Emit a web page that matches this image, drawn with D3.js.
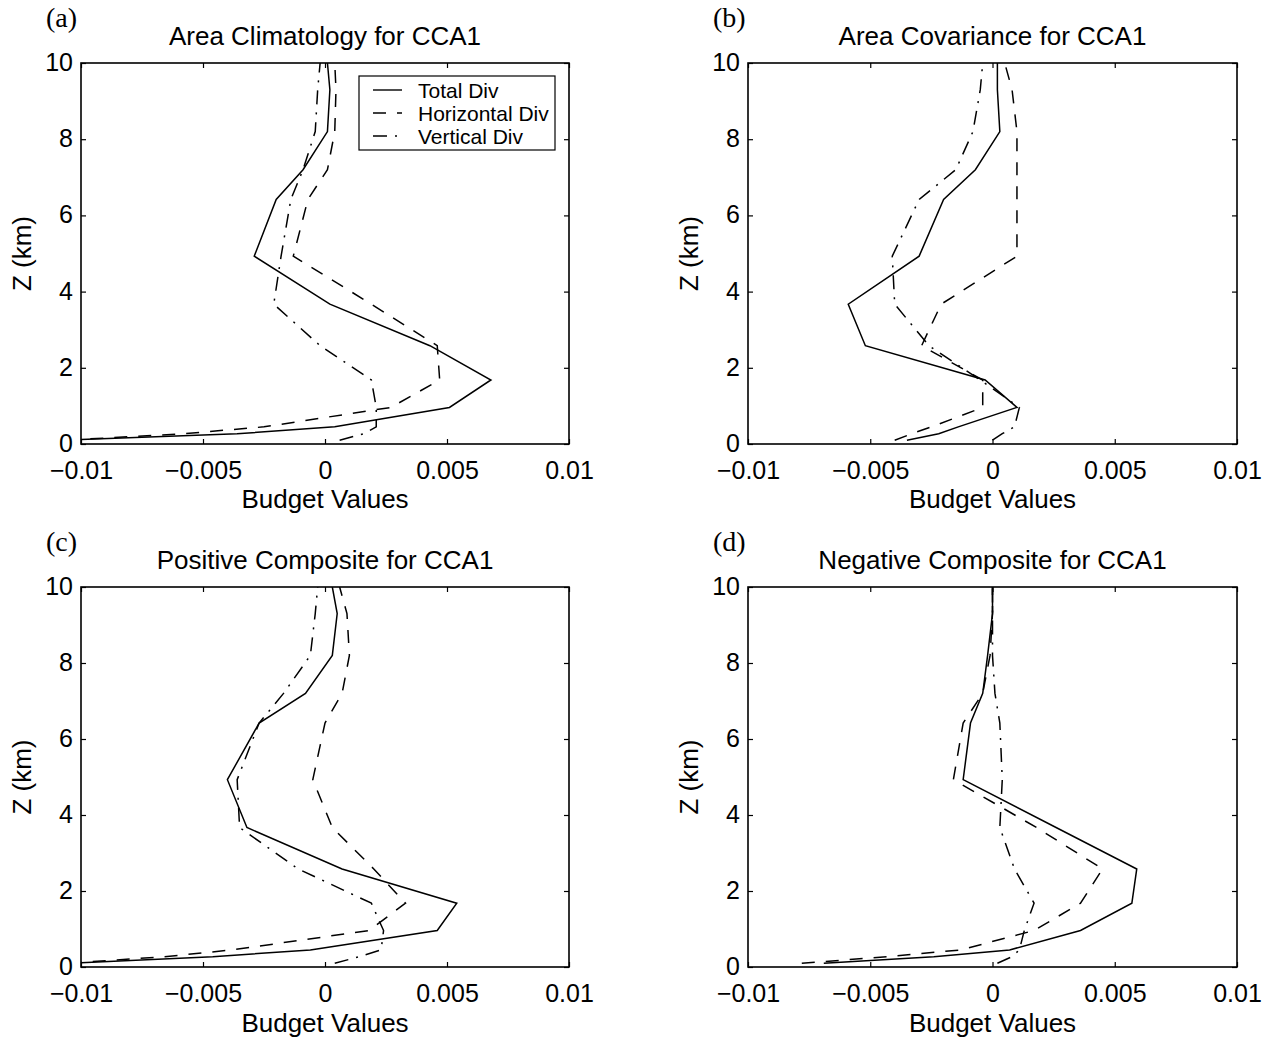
<!DOCTYPE html>
<html><head><meta charset="utf-8">
<script src="https://cdn.jsdelivr.net/npm/d3@7"></script>
<style>body{margin:0;background:#fff}</style>
</head><body><svg id="chart" width="1269" height="1039"></svg>
<script>
// ---------------- data ----------------
const zKm = [0.1, 0.27, 0.45, 0.96, 1.68, 2.58, 3.67, 4.93, 6.42, 7.2, 8.2, 9.3, 10.0];

const xTicks = [-0.01, -0.005, 0, 0.005, 0.01];
const xTickLabels = ["\u22120.01", "\u22120.005", "0", "0.005", "0.01"];
const yTicks = [0, 2, 4, 6, 8, 10];
const yTickLabels = ["0", "2", "4", "6", "8", "10"];

const seriesNames = ["Total Div", "Horizontal Div", "Vertical Div"];
const panelLetters = ["(a)", "(b)", "(c)", "(d)"];
const panelTitles = ["Area Climatology for CCA1", "Area Covariance for CCA1",
                     "Positive Composite for CCA1", "Negative Composite for CCA1"];

// (a) Area Climatology
const climTotal = [-0.0109, -0.0036, 0.0004, 0.0051, 0.0068, 0.0043, 0.0002, -0.0029, -0.0020, -0.0009, 0.0001, 0.0002, 0.0001];
const climHoriz = [-0.0106, -0.0058, -0.0025, 0.0027, 0.0047, 0.0046, 0.0019, -0.0013, -0.0007, 0.0001, 0.0004, 0.00045, 0.0004];
const climVert  = [0.0006, 0.0016, 0.0021, 0.0021, 0.0019, -0.0002, -0.0021, -0.0018, -0.0014, -0.0009, -0.0004, -0.0003, -0.0002];
// (b) Area Covariance
const covTotal = [-0.0035, -0.0022, -0.0014, 0.0010, -0.0003, -0.0052, -0.0059, -0.0030, -0.0020, -0.0007, 0.0003, 0.0002, 0.0002];
const covHoriz = [-0.0040, -0.0033, -0.0025, -0.0004, -0.0004, -0.0029, -0.0021, 0.0010, 0.0010, 0.0010, 0.0010, 0.0008, 0.0005];
const covVert  = [0.0000, 0.0004, 0.0009, 0.0011, -0.0005, -0.0026, -0.0040, -0.0041, -0.0030, -0.0015, -0.0008, -0.0005, -0.0004];
// (c) Positive Composite
const posTotal = [-0.0105, -0.0046, -0.0006, 0.0046, 0.0054, 0.0007, -0.0032, -0.0040, -0.0027, -0.0008, 0.0003, 0.0005, 0.0003];
const posHoriz = [-0.0105, -0.0066, -0.0038, 0.0018, 0.0033, 0.0020, 0.0003, -0.0005, 0.0000, 0.0007, 0.0010, 0.0009, 0.0006];
const posVert  = [0.0004, 0.0014, 0.0023, 0.0024, 0.0019, -0.0011, -0.0035, -0.0036, -0.0027, -0.0017, -0.0006, -0.0004, -0.0003];
// (d) Negative Composite
const negTotal = [-0.0069, -0.0024, 0.0007, 0.0036, 0.0057, 0.0059, 0.0026, -0.0012, -0.0009, -0.0004, -0.0002, 0.0000, 0.0000];
const negHoriz = [-0.0078, -0.0043, -0.0013, 0.0017, 0.0036, 0.0045, 0.0018, -0.0016, -0.0012, -0.0004, -0.0001, 0.0000, 0.0000];
const negVert  = [0.0002, 0.0008, 0.0011, 0.0013, 0.0017, 0.0009, 0.0003, 0.0004, 0.0003, 0.0001, 0.0000, 0.0000, 0.0000];

const panelSeries = [
  [climTotal, climHoriz, climVert],
  [covTotal, covHoriz, covVert],
  [posTotal, posHoriz, posVert],
  [negTotal, negHoriz, negVert]
];

// ---------------- layout / style ----------------
const boxes = [
  {l: 81, r: 569, t: 63, b: 444, xl: 35, xt: 64},
  {l: 748, r: 1237, t: 63, b: 444, xl: 35, xt: 64},
  {l: 81, r: 569, t: 587, b: 967, xl: 35, xt: 65},
  {l: 748, r: 1237, t: 587, b: 967, xl: 35, xt: 65}
];
const dashes = [null, "13,11", "14,8,2,8"];
const sansFont = "'Liberation Sans', Arial, Helvetica, sans-serif";
const serifFont = "'Liberation Serif', 'Times New Roman', serif";

const svg = d3.select("#chart");

panelSeries.forEach((series, pi) => {
  const bx = boxes[pi];
  const x = d3.scaleLinear().domain([xTicks[0], xTicks[xTicks.length - 1]]).range([bx.l, bx.r]);
  const y = d3.scaleLinear().domain([0, 10]).range([bx.b, bx.t]);
  const g = svg.append("g");

  const clipId = "clip" + pi;
  svg.append("clipPath").attr("id", clipId).append("rect")
    .attr("x", bx.l).attr("y", bx.t).attr("width", bx.r - bx.l).attr("height", bx.b - bx.t);

  const styleAxis = sel => {
    sel.select(".domain").remove();
    sel.selectAll(".tick line").attr("stroke", "#000").attr("stroke-width", 1.2);
    sel.selectAll("text").attr("font-family", sansFont).attr("font-size", 25).attr("fill", "#000");
  };
  g.append("g").attr("transform", `translate(0,${bx.b})`)
    .call(d3.axisBottom(x).tickValues(xTicks).tickFormat((d, i) => xTickLabels[i]).tickSize(-5).tickPadding(0))
    .call(styleAxis)
    .selectAll("text").attr("dy", null).attr("y", bx.xl);
  g.append("g").attr("transform", `translate(0,${bx.t})`)
    .call(d3.axisTop(x).tickValues(xTicks).tickFormat("").tickSize(-5))
    .call(styleAxis);
  g.append("g").attr("transform", `translate(${bx.l},0)`)
    .call(d3.axisLeft(y).tickValues(yTicks).tickFormat((d, i) => yTickLabels[i]).tickSize(-5).tickPadding(8))
    .call(styleAxis)
    .selectAll("text").attr("dy", null).attr("y", 7.5);
  g.append("g").attr("transform", `translate(${bx.r},0)`)
    .call(d3.axisRight(y).tickValues(yTicks).tickFormat("").tickSize(-5))
    .call(styleAxis);

  const line = d3.line().x(d => x(d[0])).y(d => y(d[1]));
  series.forEach((vals, si) => {
    const pts = vals.map((v, k) => [v, zKm[k]]);
    g.append("path").datum(pts)
      .attr("d", line)
      .attr("fill", "none")
      .attr("stroke", "#000")
      .attr("stroke-width", 1.5)
      .attr("stroke-dasharray", dashes[si])
      .attr("clip-path", `url(#${clipId})`);
  });

  g.append("rect").attr("x", bx.l).attr("y", bx.t)
    .attr("width", bx.r - bx.l).attr("height", bx.b - bx.t)
    .attr("fill", "none").attr("stroke", "#000").attr("stroke-width", 1.6);

  g.append("text").attr("x", (bx.l + bx.r) / 2).attr("y", bx.t - 18)
    .attr("text-anchor", "middle").attr("font-family", sansFont).attr("font-size", 26)
    .text(panelTitles[pi]);
  g.append("text").attr("x", (bx.l + bx.r) / 2).attr("y", bx.b + bx.xt)
    .attr("text-anchor", "middle").attr("font-family", sansFont).attr("font-size", 26)
    .text("Budget Values");
  g.append("text")
    .attr("transform", `translate(${bx.l - 50},${(bx.t + bx.b) / 2}) rotate(-90)`)
    .attr("text-anchor", "middle").attr("font-family", sansFont).attr("font-size", 26)
    .text("Z (km)");
  g.append("text").attr("x", bx.l - 35).attr("y", bx.t - 36)
    .attr("font-family", serifFont).attr("font-size", 28)
    .text(panelLetters[pi]);

  if (pi === 0) {
    const lg = g.append("g");
    lg.append("rect").attr("x", 359).attr("y", 76).attr("width", 196).attr("height", 74)
      .attr("fill", "#fff").attr("stroke", "#000").attr("stroke-width", 1.2);
    seriesNames.forEach((name, si) => {
      const ry = 90 + si * 23;
      lg.append("line").attr("x1", 373).attr("x2", 402).attr("y1", ry).attr("y2", ry)
        .attr("stroke", "#000").attr("stroke-width", 1.4).attr("stroke-dasharray", dashes[si]);
      lg.append("text").attr("x", 418).attr("y", ry).attr("dy", "0.36em")
        .attr("font-family", sansFont).attr("font-size", 21).text(name);
    });
  }
});
</script>
</body></html>
